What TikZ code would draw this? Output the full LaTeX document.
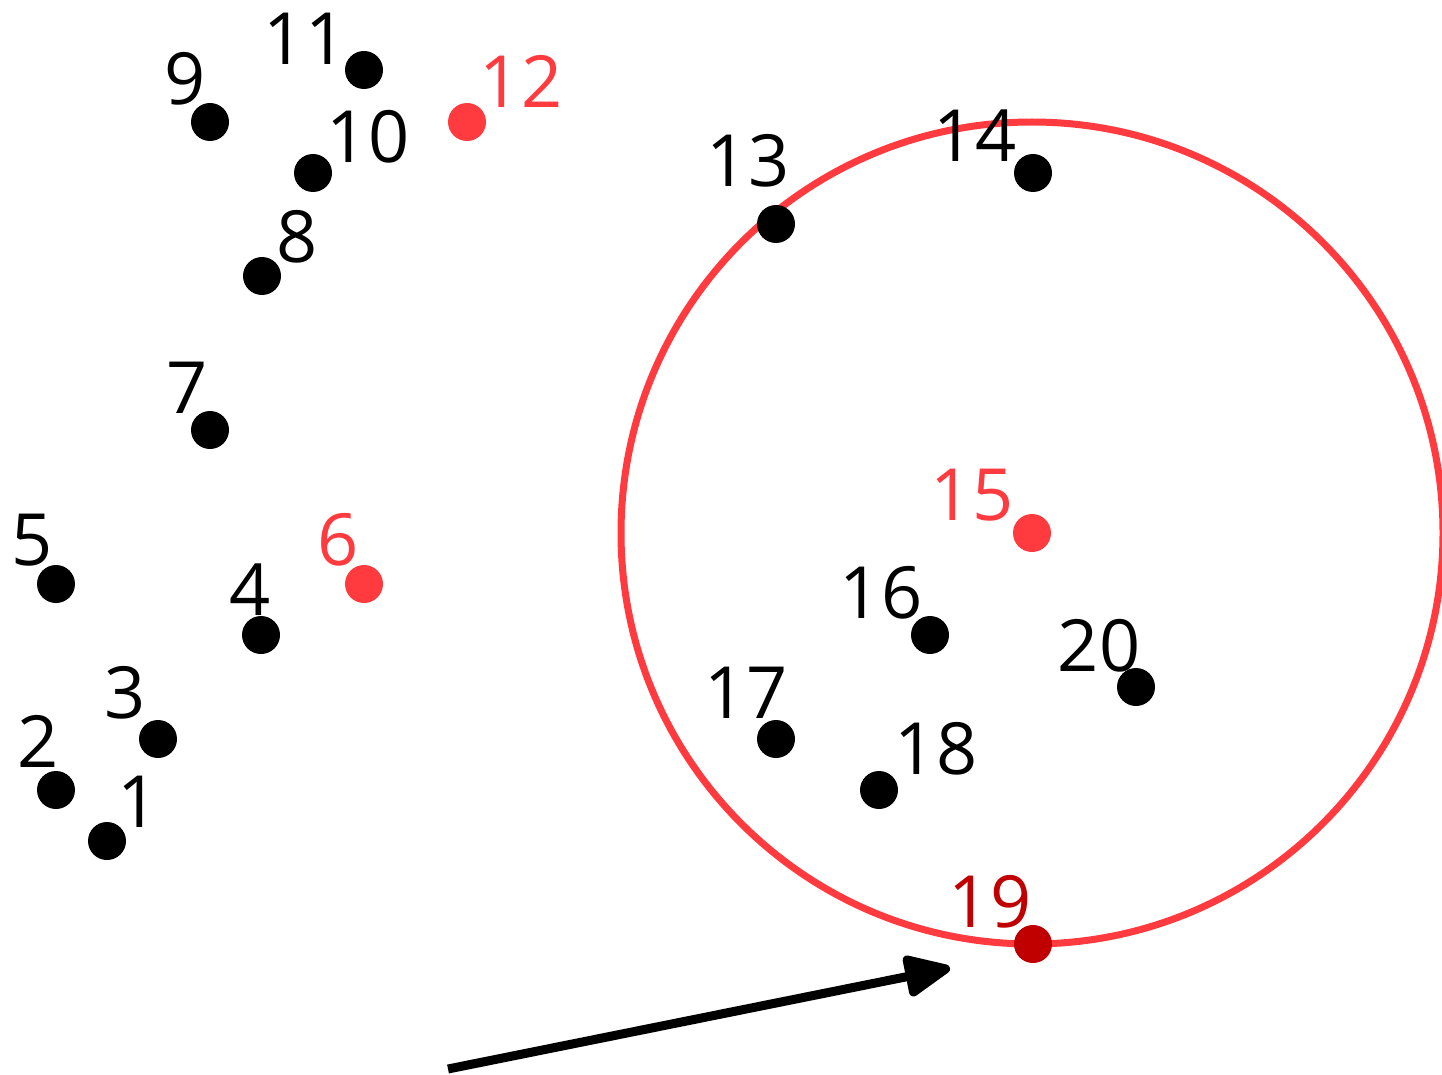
\documentclass[tikz,border=0pt]{standalone}
\usepackage{fontspec}
\setmainfont{Open Sans}
\usetikzlibrary{arrows.meta}
\definecolor{ringred}{HTML}{FF3B3F}
\definecolor{darkred}{HTML}{C00000}
\tikzset{
  dot/.style={circle, fill=black, inner sep=0pt, minimum size=38pt},
  reddot/.style={dot, fill=ringred},
  darkdot/.style={dot, fill=darkred},
  lab/.style={anchor=base, inner sep=0pt, font=\fontsize{72}{72}\selectfont},
  redlab/.style={lab, text=ringred},
  darklab/.style={lab, text=darkred},
  ring/.style={circle, draw=ringred, line width=7pt, inner sep=0pt, minimum size=822pt},
  pointer/.style={line width=9pt, -{Triangle[length=52pt,width=44pt,round]}, line join=round}
}
\begin{document}
\begin{tikzpicture}[x=1pt,y=-1pt]
\useasboundingbox (0,0) rectangle (1442,1075);
% ring around point 15
\node[ring] (ring) at (1032,533) {};
% dots
\node[dot] (d1) at (107,841) {};
\node[dot] (d2) at (56,790) {};
\node[dot] (d3) at (158,739) {};
\node[dot] (d4) at (261,635) {};
\node[dot] (d5) at (56,584) {};
\node[reddot] (d6) at (364,584) {};
\node[dot] (d7) at (210,430) {};
\node[dot] (d8) at (262,276) {};
\node[dot] (d9) at (210,122) {};
\node[dot] (d10) at (313,173) {};
\node[dot] (d11) at (364,70) {};
\node[reddot] (d12) at (467,122) {};
\node[dot] (d13) at (776,224) {};
\node[dot] (d14) at (1033,173) {};
\node[reddot] (d15) at (1032,533) {};
\node[dot] (d16) at (930,635) {};
\node[dot] (d17) at (776,739) {};
\node[dot] (d18) at (879,790) {};
\node[darkdot] (d19) at (1033,944) {};
\node[dot] (d20) at (1136,687) {};
% labels
\node[lab] (l1) at (138,827) {1};
\node[lab] (l2) at (38,767) {2};
\node[lab] (l3) at (125,718) {3};
\node[lab] (l4) at (250,615) {4};
\node[lab] (l5) at (32,565) {5};
\node[redlab] (l6) at (338,565) {6};
\node[lab] (l7) at (187,413) {7};
\node[lab] (l8) at (297,262) {8};
\node[lab] (l9) at (185,105) {9};
\node[lab] (l10) at (368,163) {10};
\node[lab] (l11) at (305,65) {11};
\node[redlab] (l12) at (521,108) {12};
\node[lab] (l13) at (748,187) {13};
\node[lab] (l14) at (975,162) {14};
\node[redlab] (l15) at (972,520) {15};
\node[lab] (l16) at (881,618) {16};
\node[lab] (l17) at (746,718) {17};
\node[lab] (l18) at (936,774) {18};
\node[darklab] (l19) at (990,927) {19};
\node[lab] (l20) at (1099,671) {20};
% arrow
\coordinate (tail) at (448,1069);
\coordinate (tip) at (950,968);
\draw[pointer] (tail) -- (tip);
\end{tikzpicture}
\end{document}
